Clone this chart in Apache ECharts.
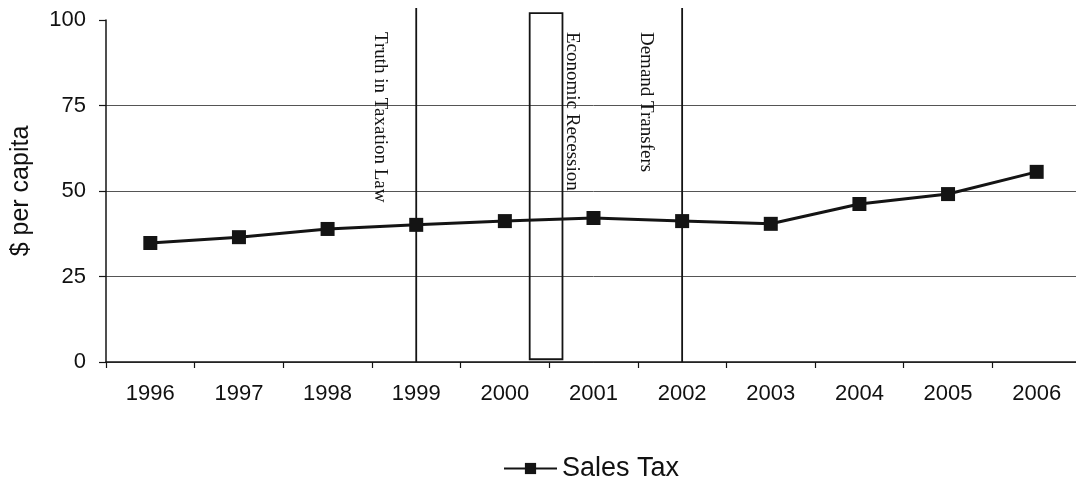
<!DOCTYPE html>
<html>
<head>
<meta charset="utf-8">
<style>
  html, body { margin: 0; padding: 0; background: #fff; overflow: hidden; }
  #chart { width: 1086px; height: 481px; }
</style>
<script src="https://cdn.jsdelivr.net/npm/echarts@6/dist/echarts.min.js"></script>
</head>
<body>
<div id="chart"></div>
<script>
// Sales tax revenue, dollars per capita
const years = ['1996', '1997', '1998', '1999', '2000', '2001', '2002', '2003', '2004', '2005', '2006'];
const salesTax = [34.8, 36.5, 38.9, 40.1, 41.2, 42.1, 41.2, 40.4, 46.2, 49.1, 55.6];
const yTicks = [0, 25, 50, 75, 100];

// Policy / economic events marked on the timeline
const eventLabels = ['Truth in Taxation Law', 'Economic Recession', 'Demand Transfers'];
const eventStart = [1999, 2000.28, 2002];
const eventEnd = [1999, 2000.65, 2002];

const INK = '#141414';
const firstYear = Number(years[0]);

function yearX(api, yr) {
  const i = Math.floor(yr) - firstYear;
  const frac = yr - Math.floor(yr);
  return api.coord([i, 0])[0] + frac * api.size([1, 0])[0];
}

function renderEvent(params, api) {
  const idx = params.dataIndex;
  const x0 = yearX(api, eventStart[idx]);
  const x1 = yearX(api, eventEnd[idx]);
  const yBase = api.coord([0, 0])[1];
  const textY = api.coord([0, 96.5])[1];
  const children = [];
  let labelX;
  if (x1 - x0 < 1) {
    const yTop = api.coord([0, 103.5])[1];
    children.push({
      type: 'line',
      shape: { x1: x0, y1: yBase, x2: x0, y2: yTop },
      style: { stroke: INK, lineWidth: 1.8 }
    });
    labelX = x0 - 36;
  } else {
    const yTop = api.coord([0, 102])[1];
    const yBot = api.coord([0, 0.8])[1];
    children.push({
      type: 'rect',
      shape: { x: x0, y: yTop, width: x1 - x0, height: yBot - yTop },
      style: { fill: 'none', stroke: INK, lineWidth: 1.8 }
    });
    labelX = x1 + 10;
  }
  children.push({
    type: 'text',
    x: labelX,
    y: textY,
    rotation: -Math.PI / 2,
    style: {
      text: eventLabels[idx],
      font: '19px "Liberation Serif", "Times New Roman", serif',
      fill: INK,
      align: 'left',
      verticalAlign: 'middle'
    }
  });
  return { type: 'group', children: children };
}

const chart = echarts.init(document.getElementById('chart'), null, { renderer: 'canvas' });

chart.setOption({
  animation: false,
  backgroundColor: '#ffffff',
  textStyle: { fontFamily: '"Liberation Sans", Arial, sans-serif', color: '#111' },
  grid: { left: 106, top: 20, width: 975, height: 342, containLabel: false },
  legend: {
    left: 503,
    top: 455,
    padding: 0,
    itemWidth: 53,
    itemHeight: 14,
    itemGap: 8,
    data: ['Sales Tax'],
    textStyle: { fontSize: 27, color: '#111', fontFamily: '"Liberation Sans", Arial, sans-serif' }
  },
  xAxis: {
    type: 'category',
    data: years,
    boundaryGap: true,
    axisLine: { lineStyle: { color: INK, width: 1.5 } },
    axisTick: { show: true, alignWithLabel: false, length: 6, lineStyle: { color: INK, width: 1.2 } },
    axisLabel: { fontSize: 22, color: '#111', margin: 21, interval: 0 },
    splitLine: { show: false }
  },
  yAxis: {
    type: 'value',
    min: yTicks[0],
    max: yTicks[yTicks.length - 1],
    interval: yTicks[1] - yTicks[0],
    name: '$ per capita',
    nameLocation: 'middle',
    nameRotate: 90,
    nameGap: 72,
    nameTextStyle: { fontSize: 25, color: '#111' },
    axisLine: { show: true, lineStyle: { color: INK, width: 1.5 } },
    axisTick: { show: true, length: 7, lineStyle: { color: INK, width: 1.2 } },
    axisLabel: { fontSize: 22, color: '#111', margin: 20 },
    splitLine: { show: true, showMaxLine: false, lineStyle: { color: '#555', width: 1 } }
  },
  series: [
    {
      name: 'Events',
      type: 'custom',
      renderItem: renderEvent,
      data: eventLabels.map((_, i) => i),
      clip: false,
      silent: true,
      z: 1
    },
    {
      name: 'Sales Tax',
      type: 'line',
      data: salesTax,
      symbol: 'rect',
      symbolSize: 14,
      showAllSymbol: true,
      itemStyle: { color: INK },
      lineStyle: { color: INK, width: 3 },
      z: 3
    }
  ]
});
</script>
</body>
</html>
